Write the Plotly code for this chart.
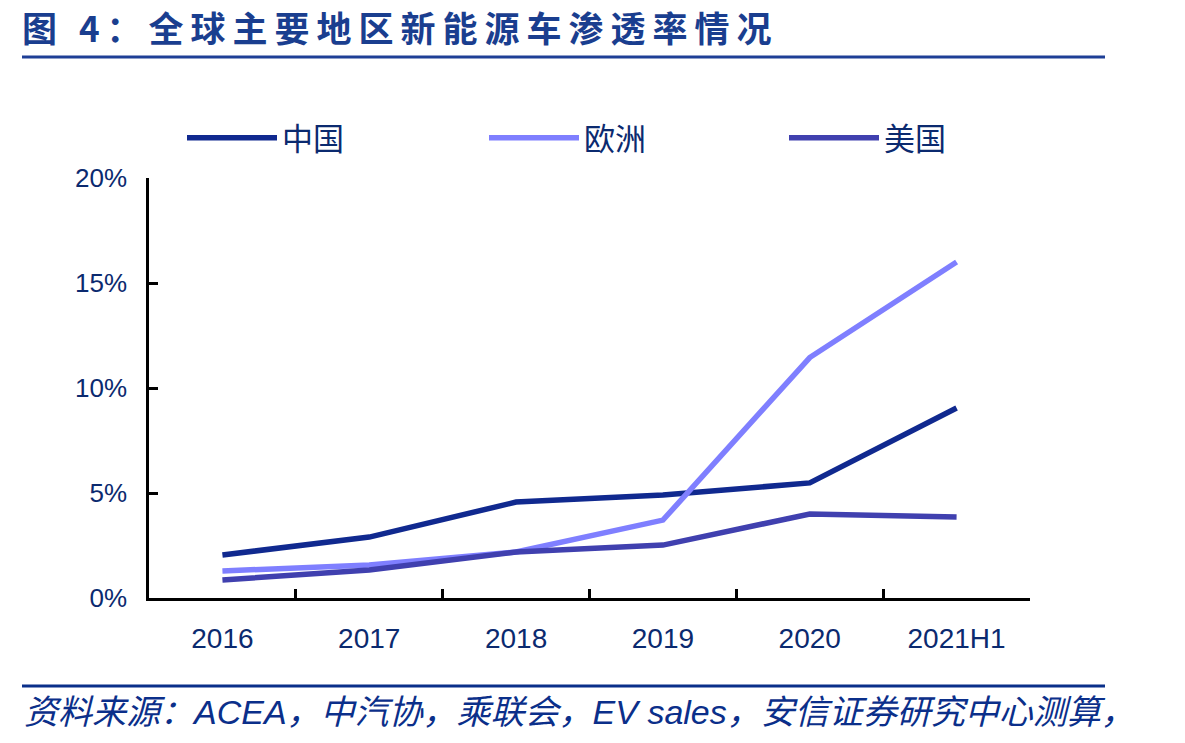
import plotly.graph_objects as go

categories = ["2016", "2017", "2018", "2019", "2020", "2021H1"]
china = [2.05, 2.9, 4.57, 4.9, 5.48, 9.05]
europe = [1.29, 1.57, 2.19, 3.71, 11.45, 16.0]
usa = [0.86, 1.33, 2.19, 2.52, 4.0, 3.86]
series_names = ["中国", "欧洲", "美国"]
colors = ["#10298F", "#7F7FFF", "#4040AF"]

title_text = "图 4：全球主要地区新能源车渗透率情况"
source_text = "资料来源：ACEA，中汽协，乘联会，EV sales，安信证券研究中心测算，"

NAVY = "#0B2A6F"
CJK = "Noto Sans CJK SC"

PL, PR, PT, PB = 149, 155, 178, 145
PW = 1185 - PL - PR
PH = 743 - PT - PB

fig = go.Figure()
legend_ids = ["legend", "legend2", "legend3"]
legend_px = [182, 484, 784]
for name, vals, col, lid in zip(series_names, [china, europe, usa], colors, legend_ids):
    fig.add_trace(go.Scatter(
        x=categories, y=vals, name=name, mode="lines",
        line=dict(color=col, width=5.5), legend=lid,
    ))

legend_common = dict(
    orientation="h", y=1 + (PT - 138) / PH, xanchor="left", yanchor="middle",
    font=dict(family=CJK, size=31, color=NAVY),
    itemwidth=90, bgcolor="rgba(0,0,0,0)",
)
layout_legends = {}
for lid, px in zip(legend_ids, legend_px):
    layout_legends[lid] = dict(legend_common, x=(px - PL) / PW)

fig.update_layout(
    width=1185, height=743,
    margin=dict(l=PL, r=PR, t=PT, b=PB, autoexpand=False),
    paper_bgcolor="white", plot_bgcolor="white",
    showlegend=True,
    **layout_legends,
    xaxis=dict(
        type="category", range=[-0.5, 5.5],
        showline=True, linecolor="black", linewidth=2.5,
        ticks="inside", ticklen=9, tickwidth=2.5, tickcolor="black",
        tickson="boundaries", tickangle=0,
        showgrid=False, zeroline=False,
        tickfont=dict(family="Liberation Sans, Arial", size=28, color=NAVY),
        ticklabelstandoff=14,
    ),
    yaxis=dict(
        range=[0, 20], dtick=5, ticksuffix="%",
        showline=True, linecolor="black", linewidth=2.5,
        ticks="inside", ticklen=9, tickwidth=2.5, tickcolor="black",
        showgrid=False, zeroline=False,
        tickfont=dict(family="Liberation Sans, Arial", size=26, color=NAVY),
        ticklabelstandoff=14,
    ),
)

# title and rules
fig.add_annotation(
    xref="paper", yref="paper", x=(20 - PL) / PW, y=1 + (PT - 27) / PH,
    xanchor="left", yanchor="middle", showarrow=False,
    text="<b>" + "\u2009".join(title_text) + "</b>",
    font=dict(family=CJK, size=35, color="#1A3E8F"),
)
fig.add_shape(type="line", xref="paper", yref="paper",
              x0=(22 - PL) / PW, x1=(1105 - PL) / PW,
              y0=1 + (PT - 57) / PH, y1=1 + (PT - 57) / PH,
              line=dict(color="#1E3F96", width=3))
fig.add_shape(type="line", xref="paper", yref="paper",
              x0=(22 - PL) / PW, x1=(1105 - PL) / PW,
              y0=-(686 - (743 - PB)) / PH, y1=-(686 - (743 - PB)) / PH,
              line=dict(color="#0A2F8A", width=3))
fig.add_annotation(
    xref="paper", yref="paper", x=(22 - PL) / PW, y=-(712 - (743 - PB)) / PH,
    xanchor="left", yanchor="middle", showarrow=False,
    text="<i>" + source_text + "</i>",
    font=dict(family="Liberation Sans, " + CJK, size=34, color="#0B2F8A"),
)

fig.write_html("out.html")
